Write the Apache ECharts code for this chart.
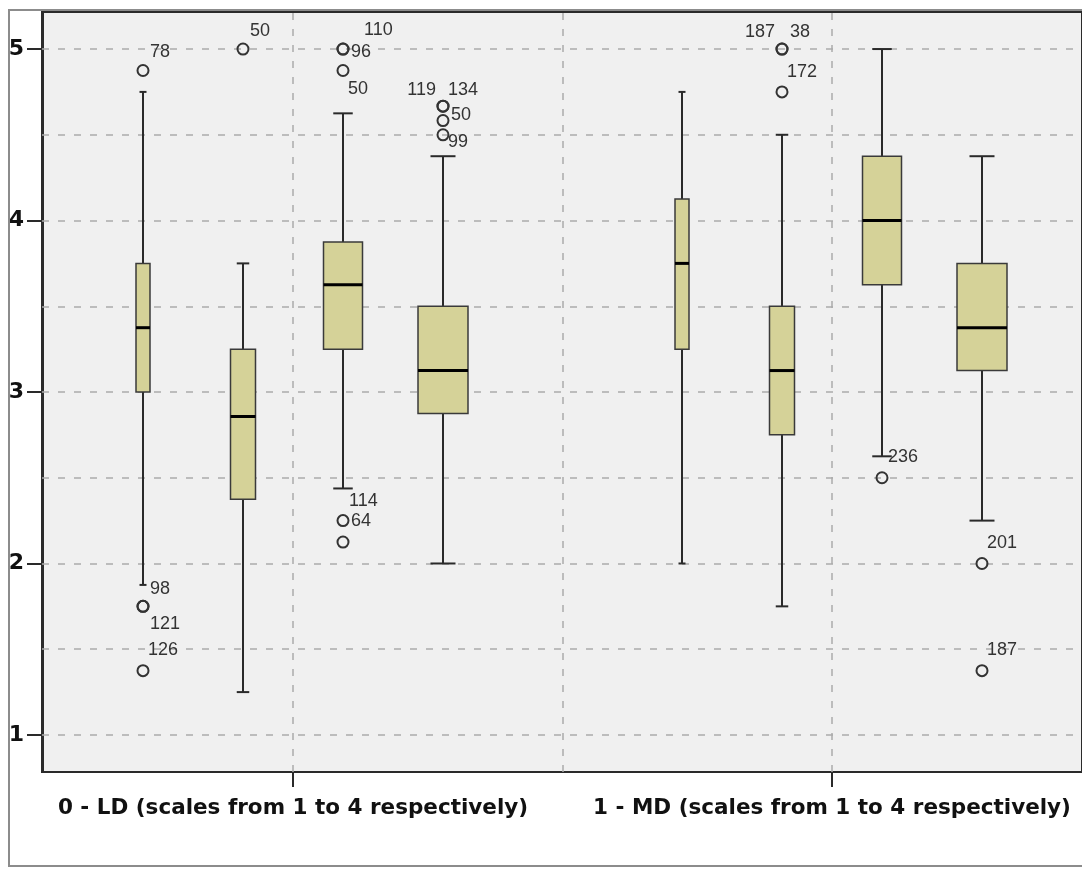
<!DOCTYPE html>
<html>
<head>
<meta charset="utf-8">
<title>Boxplots LD / MD</title>
<script src="https://cdn.jsdelivr.net/npm/echarts@6/dist/echarts.min.js"></script>
<style>
  html, body { margin: 0; padding: 0; background: #ffffff; }
  #chart { width: 1082px; height: 869px; }
</style>
</head>
<body>
<div id="chart"></div>
<script>
// ---- data ---------------------------------------------------------------
const groupNames = [
  '0 - LD (scales from 1 to 4 respectively)',
  '1 - MD (scales from 1 to 4 respectively)'
];
const scaleNames = ['1', '2', '3', '4'];

// five-number summaries per scale: [lower whisker, Q1, median, Q3, upper whisker]
const ldStats = [
  [1.875, 3.0,   3.375, 3.75,  4.75],
  [1.25,  2.375, 2.857, 3.25,  3.75],
  [2.4375,3.25,  3.625, 3.875, 4.625],
  [2.0,   2.875, 3.125, 3.5,   4.375]
];
const mdStats = [
  [2.0,   3.25,  3.75,  4.125, 4.75],
  [1.75,  2.75,  3.125, 3.5,   4.5],
  [2.625, 3.625, 4.0,   4.375, 5.0],
  [2.25,  3.125, 3.375, 3.75,  4.375]
];

// outliers: [scale index, value, case id]
const ldOutliers = [
  [0, 4.875, '78'], [0, 1.75, '98'], [0, 1.75, '121'], [0, 1.375, '126'],
  [1, 5.0, '50'],
  [2, 5.0, '110'], [2, 5.0, '96'], [2, 4.875, '50'], [2, 2.25, '114'], [2, 2.125, '64'],
  [3, 4.667, '119'], [3, 4.667, '134'], [3, 4.583, '50'], [3, 4.5, '99']
];
const mdOutliers = [
  [1, 5.0, '187'], [1, 5.0, '38'], [1, 4.75, '172'],
  [2, 2.5, '236'],
  [3, 2.0, '201'], [3, 1.375, '187']
];

const yTickValues = [1, 2, 3, 4, 5];
const yGridValues = [1, 1.5, 2, 2.5, 3, 3.5, 4, 4.5, 5];

// ---- layout / style ------------------------------------------------------
const groupCenters = [2.5, 7.89];           // x-axis units
const slotOffsets = [-1.5, -0.5, 0.5, 1.5];
const boxWidthPx = [14, 25, 39, 50];
const dividerX = (groupCenters[0] + groupCenters[1]) / 2;

// id-label placement [dx, dy, align] around each outlier circle
const ldLabelLayout = [
  [7, -18, 'left'], [7, -17, 'left'], [7, 18, 'left'], [5, -21, 'left'],
  [7, -18, 'left'],
  [21, -19, 'left'], [8, 3, 'left'], [5, 19, 'left'], [6, -20, 'left'], [8, -21, 'left'],
  [-7, -16, 'right'], [5, -16, 'left'], [8, -6, 'left'], [5, 7, 'left']
];
const mdLabelLayout = [
  [-7, -17, 'right'], [8, -17, 'left'], [5, -20, 'left'],
  [6, -21, 'left'],
  [5, -20, 'left'], [5, -21, 'left']
];

const BOX_FILL = '#d5d298';
const INK = '#2a2a2a';
const BOLD_FONT = 'DejaVu Sans, Verdana, sans-serif';

// ---- build series data -------------------------------------------------
const boxData = [];
[ldStats, mdStats].forEach((stats, g) => {
  stats.forEach((s, i) => {
    boxData.push([groupCenters[g] + slotOffsets[i]].concat(s).concat([i]));
  });
});

const outlierData = [];
[[ldOutliers, ldLabelLayout], [mdOutliers, mdLabelLayout]].forEach(([list, layout], g) => {
  list.forEach((o, k) => {
    const [dx, dy, align] = layout[k];
    outlierData.push({
      value: [groupCenters[g] + slotOffsets[o[0]], o[1]],
      name: o[2],
      label: { offset: [dx, dy], align: align }
    });
  });
});

function renderBox(params, api) {
  const x = api.value(0);
  const lo = api.coord([x, api.value(1)]);
  const q1 = api.coord([x, api.value(2)]);
  const md = api.coord([x, api.value(3)]);
  const q3 = api.coord([x, api.value(4)]);
  const hi = api.coord([x, api.value(5)]);
  const w = boxWidthPx[api.value(6)];
  const hw = w / 2;
  const cw = w / 4;
  const cx = q1[0];
  const lineStyle = { stroke: INK, lineWidth: 2 };
  return {
    type: 'group',
    children: [
      { type: 'line', shape: { x1: cx, y1: q3[1], x2: cx, y2: hi[1] }, style: lineStyle },
      { type: 'line', shape: { x1: cx, y1: q1[1], x2: cx, y2: lo[1] }, style: lineStyle },
      { type: 'line', shape: { x1: cx - cw, y1: hi[1], x2: cx + cw, y2: hi[1] }, style: lineStyle },
      { type: 'line', shape: { x1: cx - cw, y1: lo[1], x2: cx + cw, y2: lo[1] }, style: lineStyle },
      { type: 'rect', shape: { x: cx - hw, y: q3[1], width: w, height: q1[1] - q3[1] },
        style: { fill: BOX_FILL, stroke: '#3a3a3a', lineWidth: 1.5 } },
      { type: 'line', shape: { x1: cx - hw, y1: md[1], x2: cx + hw, y2: md[1] },
        style: { stroke: '#000', lineWidth: 3 } }
    ]
  };
}

const chart = echarts.init(document.getElementById('chart'), null, { renderer: 'canvas' });

chart.setOption({
  animation: false,
  backgroundColor: '#ffffff',
  graphic: [{
    type: 'rect',
    z: 100,
    shape: { x: 9, y: 10, width: 1090, height: 856 },
    style: { fill: 'none', stroke: '#8c8c8c', lineWidth: 2 },
    silent: true
  }],
  grid: {
    left: 42, top: 12, right: -2, bottom: 97,
    show: true,
    backgroundColor: '#f0f0f0',
    borderColor: '#2a2a2a',
    borderWidth: 2
  },
  xAxis: {
    type: 'value',
    min: -0.01,
    max: 10.39,
    splitLine: { show: false },
    axisLine: { show: true, lineStyle: { color: INK, width: 2 } },
    axisTick: {
      show: true, customValues: groupCenters, length: 15,
      lineStyle: { color: INK, width: 2 }
    },
    axisLabel: {
      customValues: groupCenters,
      margin: 25,
      fontFamily: BOLD_FONT,
      fontWeight: 'bold',
      fontSize: 21.5,
      color: '#111',
      formatter: v => groupNames[groupCenters.indexOf(v)] || ''
    }
  },
  yAxis: {
    type: 'value',
    min: 0.784,
    max: 5.216,
    splitLine: { show: false },
    axisLine: { show: true, lineStyle: { color: INK, width: 2 } },
    axisTick: {
      show: true, customValues: yTickValues, length: 16,
      lineStyle: { color: INK, width: 2 }
    },
    axisLabel: {
      customValues: yTickValues,
      margin: 18,
      fontFamily: BOLD_FONT,
      fontWeight: 'bold',
      fontSize: 22,
      color: '#111'
    }
  },
  series: [
    {
      // dashed reference lines, kept underneath the boxes
      type: 'line',
      data: [],
      z: 1,
      silent: true,
      markLine: {
        z: 1,
        silent: true,
        symbol: 'none',
        label: { show: false },
        lineStyle: { color: '#aaaaaa', type: [7, 9], width: 1.5 },
        data: yGridValues.map(v => ({ yAxis: v }))
          .concat([groupCenters[0], dividerX, groupCenters[1]].map(v => ({ xAxis: v })))
      }
    },
    {
      type: 'custom',
      z: 3,
      renderItem: renderBox,
      encode: { x: 0, y: [1, 2, 3, 4, 5] },
      data: boxData
    },
    {
      type: 'scatter',
      z: 4,
      symbol: 'circle',
      symbolSize: 11,
      itemStyle: { color: 'rgba(0,0,0,0)', borderColor: '#333', borderWidth: 2, opacity: 1 },
      label: {
        show: true,
        position: 'inside',
        verticalAlign: 'middle',
        formatter: p => p.name,
        fontFamily: 'Liberation Sans, Arial, sans-serif',
        fontSize: 18,
        color: '#333'
      },
      data: outlierData
    }
  ]
});
</script>
</body>
</html>
